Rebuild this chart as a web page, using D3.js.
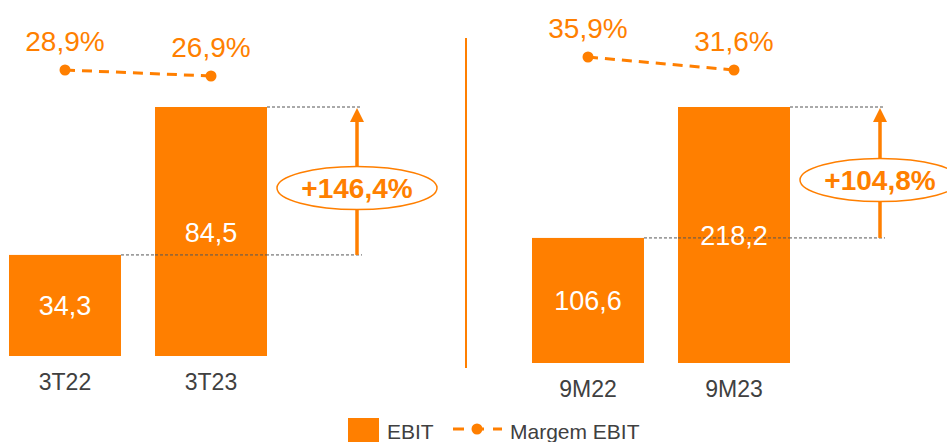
<!DOCTYPE html>
<html>
<head>
<meta charset="utf-8">
<script src="https://cdn.jsdelivr.net/npm/d3@7"></script>
<style>
  body { margin: 0; background: #fff; }
  text { font-family: Arial, "Liberation Sans", sans-serif; }
</style>
</head>
<body>
<div id="chart"></div>
<script>
// data
var leftCats = ["3T22", "3T23"];
var leftEbit = [34.3, 84.5];
var leftMargin = [28.9, 26.9];
var leftGrowth = "+146,4%";

var rightCats = ["9M22", "9M23"];
var rightEbit = [106.6, 218.2];
var rightMargin = [35.9, 31.6];
var rightGrowth = "+104,8%";

var width = 947, height = 442;
var orange = "#FF7F00", grey = "#404040";
var fmt = function (v) { return d3.format(".1f")(v).replace(".", ","); };

var svg = d3.select("#chart").append("svg")
    .attr("width", width)
    .attr("height", height);

var defs = svg.append("defs");
defs.append("marker")
    .attr("id", "arrow")
    .attr("viewBox", "0 0 10 10")
    .attr("refX", 5).attr("refY", 5)
    .attr("markerWidth", 4).attr("markerHeight", 4)
    .attr("orient", "auto")
    .append("path")
    .attr("d", "M0,0 L10,5 L0,10 z")
    .attr("fill", orange);

function panel(cats, ebit, margin, growth, opt) {
    var x = d3.scaleBand().domain(cats).range(opt.xr).paddingInner(0.233).paddingOuter(0);
    var y = d3.scaleLinear().domain([0, d3.max(ebit)]).range([opt.base, 107]);
    var m = d3.scaleLinear().domain(d3.extent(margin)).range(opt.mr);
    var g = svg.append("g");

    // guide lines
    var ax = opt.arrowX;
    g.append("line")
        .attr("x1", x(cats[0]) + x.bandwidth()).attr("x2", ax + 5)
        .attr("y1", y(ebit[0])).attr("y2", y(ebit[0]))
        .attr("stroke", "#555").attr("stroke-dasharray", "3,2").attr("stroke-width", 1);
    g.append("line")
        .attr("x1", x(cats[1]) + x.bandwidth()).attr("x2", ax + 5)
        .attr("y1", y(ebit[1])).attr("y2", y(ebit[1]))
        .attr("stroke", "#555").attr("stroke-dasharray", "3,2").attr("stroke-width", 1);

    // bars
    g.selectAll("rect.bar").data(ebit).enter().append("rect")
        .attr("class", "bar")
        .attr("x", function (d, i) { return x(cats[i]); })
        .attr("y", function (d) { return y(d); })
        .attr("width", x.bandwidth())
        .attr("height", function (d) { return opt.base - y(d); })
        .attr("fill", orange);

    // redraw the lower guide over the tall bar
    g.append("line")
        .attr("x1", x(cats[1])).attr("x2", x(cats[1]) + x.bandwidth())
        .attr("y1", y(ebit[0])).attr("y2", y(ebit[0]))
        .attr("stroke", "#555").attr("stroke-dasharray", "3,2").attr("stroke-width", 1);

    g.selectAll("text.val").data(ebit).enter().append("text")
        .attr("class", "val")
        .attr("x", function (d, i) { return x(cats[i]) + x.bandwidth() / 2; })
        .attr("y", function (d) { return (y(d) + opt.base) / 2 + 10; })
        .attr("text-anchor", "middle")
        .attr("font-size", 27)
        .attr("fill", "#fff")
        .text(fmt);

    g.selectAll("text.cat").data(cats).enter().append("text")
        .attr("class", "cat")
        .attr("x", function (d) { return x(d) + x.bandwidth() / 2; })
        .attr("y", opt.base + 34)
        .attr("text-anchor", "middle")
        .attr("font-size", 23)
        .attr("fill", grey)
        .text(function (d) { return d; });

    // margin line
    var line = d3.line()
        .x(function (d, i) { return x(cats[i]) + x.bandwidth() / 2; })
        .y(function (d) { return m(d); });
    g.append("path").datum(margin)
        .attr("d", line)
        .attr("fill", "none")
        .attr("stroke", orange)
        .attr("stroke-width", 3)
        .attr("stroke-dasharray", "10,7");
    g.selectAll("circle").data(margin).enter().append("circle")
        .attr("cx", function (d, i) { return x(cats[i]) + x.bandwidth() / 2; })
        .attr("cy", function (d) { return m(d); })
        .attr("r", 5.5)
        .attr("fill", orange);
    g.selectAll("text.mg").data(margin).enter().append("text")
        .attr("class", "mg")
        .attr("x", function (d, i) { return x(cats[i]) + x.bandwidth() / 2; })
        .attr("y", function (d) { return m(d) - 19; })
        .attr("text-anchor", "middle")
        .attr("font-size", 28)
        .attr("fill", orange)
        .text(function (d) { return fmt(d) + "%"; });

    // growth arrow
    g.append("line")
        .attr("x1", ax).attr("x2", ax)
        .attr("y1", y(ebit[0])).attr("y2", y(ebit[1]) + 8)
        .attr("stroke", orange).attr("stroke-width", 3.5)
        .attr("marker-end", "url(#arrow)");
    var cy = opt.ellY;
    g.append("ellipse")
        .attr("cx", ax).attr("cy", cy)
        .attr("rx", 80).attr("ry", 21.5)
        .attr("fill", "#fff")
        .attr("stroke", orange).attr("stroke-width", 1.5);
    g.append("text")
        .attr("x", ax).attr("y", cy + 10)
        .attr("text-anchor", "middle")
        .attr("font-size", 28)
        .attr("font-weight", "bold")
        .attr("fill", orange)
        .text(growth);
}

panel(leftCats, leftEbit, leftMargin, leftGrowth,
    { xr: [9, 267], base: 356, mr: [76, 70], arrowX: 357, ellY: 188 });
panel(rightCats, rightEbit, rightMargin, rightGrowth,
    { xr: [532, 790], base: 363, mr: [70, 57], arrowX: 880, ellY: 180 });

// divider
svg.append("line")
    .attr("x1", 466).attr("x2", 466)
    .attr("y1", 38).attr("y2", 368)
    .attr("stroke", orange).attr("stroke-width", 2);

// legend
var lg = svg.append("g");
lg.append("rect").attr("x", 348).attr("y", 418).attr("width", 31).attr("height", 24).attr("fill", orange);
lg.append("text").attr("x", 387).attr("y", 439).attr("font-size", 21).attr("fill", grey).text("EBIT");
lg.append("line").attr("x1", 453).attr("x2", 502).attr("y1", 429).attr("y2", 429)
    .attr("stroke", orange).attr("stroke-width", 3).attr("stroke-dasharray", "11,9");
lg.append("circle").attr("cx", 477).attr("cy", 429).attr("r", 5.5).attr("fill", orange);
lg.append("text").attr("x", 510).attr("y", 439).attr("font-size", 21).attr("fill", grey).text("Margem EBIT");
</script>
</body>
</html>
